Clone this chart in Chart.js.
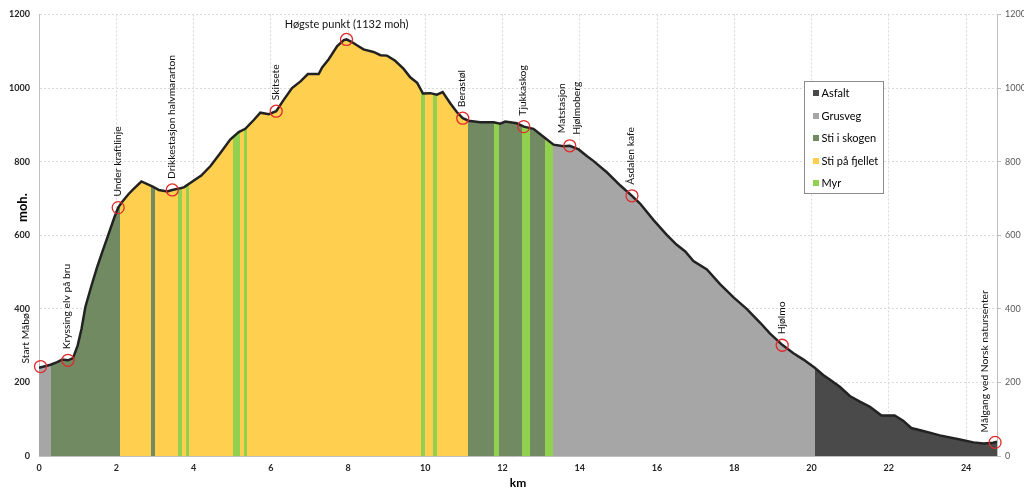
<!DOCTYPE html>
<html lang="no">
<head>
<meta charset="utf-8">
<script src="https://cdn.jsdelivr.net/npm/chart.js@4"></script>
<style>
  body { margin: 0; background: #fff; }
  #wrap { position: relative; width: 1024px; height: 493px; font-family: Lato, sans-serif; }
  #legend { position: absolute; left: 804px; top: 81px; width: 80px; height: 113px; box-sizing: border-box;
            border: 1px solid #8c8c8c; background: #fff; }
  #legend div { position: relative; height: 22.5px; line-height: 22.5px; font-size: 11px; color: #000; padding-left: 16.5px; }
  #legend span { position: absolute; left: 7.5px; top: 8px; width: 6px; height: 6px; }
</style>
</head>
<body>
<div id="wrap">
  <canvas id="profil" width="1024" height="493"></canvas>
  <div id="legend"></div>
</div>

<script>
// Høgdeprofil: km fra start og meter over havet
const kmMax = 24.8;
const profileKm = [0, 0.3, 0.47, 0.6, 0.75, 0.88, 1.0, 1.1, 1.2, 1.35, 1.5, 1.65, 1.8, 1.95, 2.05,
  2.15, 2.32, 2.45, 2.65, 2.93, 3.1, 3.32, 3.45, 3.75, 4.0, 4.2, 4.44, 4.7, 4.95, 5.17, 5.34, 5.56,
  5.73, 5.95, 6.14, 6.33, 6.55, 6.77, 6.96, 7.24, 7.33, 7.5, 7.72, 7.89, 7.96, 8.1, 8.23, 8.4, 8.66,
  8.84, 9.01, 9.22, 9.44, 9.61, 9.79, 9.94, 10.13, 10.3, 10.45, 10.65, 10.82, 10.97, 11.12, 11.42,
  11.77, 11.94, 12.07, 12.37, 12.55, 12.8, 13.1, 13.32, 13.58, 13.74, 13.97, 14.18, 14.35, 14.7,
  15.05, 15.35, 15.56, 15.91, 16.25, 16.51, 16.73, 16.94, 17.29, 17.63, 17.98, 18.32, 18.67, 18.92,
  19.24, 19.53, 19.79, 20.09, 20.3, 20.47, 20.73, 20.99, 21.25, 21.51, 21.81, 22.15, 22.37, 22.58,
  22.89, 23.32, 23.84, 24.19, 24.45, 24.7, 24.8];
const profileElev = [240, 248, 255, 262, 260, 266, 300, 345, 405, 460, 512, 558, 603, 648, 675,
  690, 712, 726, 746, 733, 723, 719, 723, 730, 748, 762, 788, 824, 860, 880, 889, 913,
  933, 929, 937, 967, 1000, 1018, 1038, 1038, 1056, 1078, 1114, 1130, 1132, 1125, 1116, 1105, 1098,
  1089, 1088, 1074, 1052, 1029, 1014, 985, 986, 982, 989, 958, 934, 918, 911, 907,
  907, 903, 909, 904, 895, 889, 864, 846, 842, 843, 833, 815, 802, 771,
  735, 707, 686, 641, 601, 574, 556, 530, 507, 467, 431, 400, 362, 333,
  302, 279, 262, 239, 220, 208, 188, 163, 148, 134, 110, 110, 96, 76,
  68, 56, 45, 37, 34, 36, 39];

// Underlag
const surfaceNames = ['Asfalt', 'Grusveg', 'Sti i skogen', 'Sti på fjellet', 'Myr'];
const surfaceColors = ['#4a4a4a', '#a6a6a6', '#718a62', '#ffd050', '#92d050'];
const bandStart = [0, 0.3, 2.09, 2.91, 3.01, 3.6, 3.7, 3.81, 3.89, 5.01, 5.2, 5.3, 5.39,
  9.89, 10.0, 10.2, 10.3, 11.1, 11.79, 11.91, 12.5, 12.72, 13.1, 13.31, 20.09];
const bandType = [1, 2, 3, 2, 3, 4, 3, 4, 3, 4, 3, 4, 3, 4, 3, 4, 3, 2, 4, 2, 4, 2, 4, 1, 0];

// Punkter langs løypa
const stopNames = ['Start Måbø', 'Kryssing elv på bru', 'Under kraftlinje', 'Drikkestasjon halvmararton',
  'Skitsete', 'Høgste punkt (1132 moh)', 'Berastøl', 'Tjukkaskog', 'Matstasjon\nHjølmoberg',
  'Åsdalen kafe', 'Hjølmo', 'Målgang ved Norsk natursenter'];
const stopKm = [0.04, 0.75, 2.05, 3.45, 6.14, 7.96, 10.97, 12.55, 13.74, 15.35, 19.24, 24.75];
const stopElev = [243, 260, 675, 723, 937, 1132, 918, 895, 843, 707, 301, 37];

const xTicks = [0, 2, 4, 6, 8, 10, 12, 14, 16, 18, 20, 22, 24];

// legend
const legend = document.getElementById('legend');
surfaceNames.forEach((n, i) => {
  const d = document.createElement('div');
  d.innerHTML = '<span style="background:' + surfaceColors[i] + '"></span>' + n;
  legend.appendChild(d);
});

function surfaceFill(context) {
  const chart = context.chart;
  const x = chart.scales.x;
  if (!chart.chartArea || !x) return surfaceColors[3];
  const x0 = x.getPixelForValue(0), x1 = x.getPixelForValue(kmMax);
  const g = chart.ctx.createLinearGradient(x0, 0, x1, 0);
  bandStart.forEach((s, i) => {
    const e = i + 1 < bandStart.length ? bandStart[i + 1] : kmMax;
    const c = surfaceColors[bandType[i]];
    g.addColorStop((x.getPixelForValue(s) - x0) / (x1 - x0), c);
    g.addColorStop((x.getPixelForValue(e) - x0) / (x1 - x0), c);
  });
  return g;
}

const stopLabels = {
  id: 'stopLabels',
  afterDatasetsDraw(chart) {
    const {ctx, chartArea, scales: {x, y}} = chart;
    ctx.save();
    ctx.fillStyle = '#111';
    ctx.textBaseline = 'middle';
    ctx.textAlign = 'center';
    ctx.font = '10.3px Lato';
    stopNames.forEach((name, i) => {
      const px = x.getPixelForValue(stopKm[i]);
      const py = y.getPixelForValue(stopElev[i]);
      if (i === 5) {
        ctx.font = '11px Lato';
        ctx.fillText(name, px, py - 15);
        ctx.font = '10.3px Lato';
        return;
      }
      const lines = name.split('\n');
      const w = Math.max(...lines.map(l => ctx.measureText(l).width));
      let dx = -1, gap = 11;
      if (i === 0) { dx = -15; gap = 3; }
      if (i === stopNames.length - 1) { dx = -10; gap = 10; }
      ctx.save();
      ctx.translate(px + dx, py - gap);
      ctx.rotate(-Math.PI / 2);
      lines.forEach((l, j) => ctx.fillText(l, w / 2, (j - (lines.length - 1) / 2) * 15));
      ctx.restore();
    });
    // aksetittel
    ctx.font = 'bold 13px Lato';
    ctx.fillStyle = '#000';
    ctx.translate(chartArea.left - 16, y.getPixelForValue(675));
    ctx.rotate(-Math.PI / 2);
    ctx.fillText('moh.', 0, 0);
    ctx.restore();
  }
};

new Chart(document.getElementById('profil'), {
  type: 'line',
  data: {
    datasets: [{
      label: 'Punkter',
      data: stopKm.map((k, i) => ({x: k, y: stopElev[i]})),
      showLine: false,
      pointRadius: 6,
      pointBorderColor: '#e0292b',
      pointBackgroundColor: 'rgba(0,0,0,0)',
      pointBorderWidth: 1.3,
      clip: false,
      order: 0
    }, {
      label: 'Høgde',
      data: profileKm.map((k, i) => ({x: k, y: profileElev[i]})),
      borderColor: '#222',
      borderWidth: 2.5,
      backgroundColor: surfaceFill,
      fill: 'origin',
      tension: 0,
      pointRadius: 0,
      order: 1
    }]
  },
  options: {
    responsive: false,
    animation: false,
    layout: { padding: { top: 8 } },
    plugins: { legend: { display: false }, tooltip: { enabled: false } },
    scales: {
      x: {
        type: 'linear', min: 0, max: kmMax,
        afterFit: s => { s.height = 37; },
        afterBuildTicks: s => { s.ticks = xTicks.map(v => ({value: v})); },
        ticks: { font: { family: 'Lato', size: 9, weight: 'bold' }, color: '#262626', padding: 7, callback: v => String(v) },
        grid: { color: '#dadada', drawTicks: false },
        border: { color: '#bfbfbf', dash: [2, 2] },
        title: { display: true, text: 'km', font: { family: 'Lato', size: 12, weight: 'bold' }, color: '#000', padding: { top: 0, bottom: 3 } }
      },
      y: {
        position: 'left', min: 0, max: 1200,
        afterFit: s => { s.width = 39; },
        ticks: { stepSize: 200, font: { family: 'Lato', size: 9, weight: 'bold' }, color: '#262626', padding: 9, callback: v => String(v) },
        grid: { color: '#dadada', drawTicks: false },
        border: { color: '#bfbfbf', dash: [2, 2] }
      },
      y2: {
        position: 'right', min: 0, max: 1200,
        afterFit: s => { s.width = 27; },
        ticks: { stepSize: 200, font: { family: 'Lato', size: 9 }, color: '#595959', padding: 4, callback: v => String(v) },
        grid: { drawOnChartArea: false, color: '#bfbfbf', tickLength: 4 },
        border: { color: '#bfbfbf' }
      }
    }
  },
  plugins: [stopLabels]
});
</script>
</body>
</html>
